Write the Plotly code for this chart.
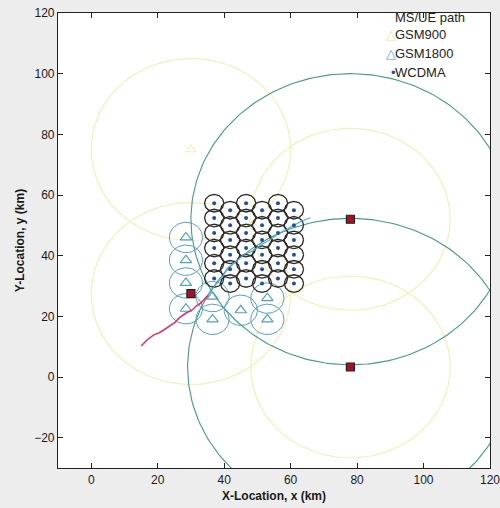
import numpy as np
import plotly.graph_objects as go

# ---------------- data ----------------
# GSM900 macro sites (yellow coverage circles)
gsm900_x = [30, 30, 78, 78]
gsm900_y = [75, 27.5, 52, 3.3]
gsm900_r = [30, 30, 30, 30]

# large (green) coverage circles
big_x = [78, 78]
big_y = [52, 3.3]
big_r = [48, 49]

# GSM1800 sites
gsm1800_x = [28.5, 28.5, 28.5, 28.5, 36.5, 36.5, 45, 53, 53]
gsm1800_y = [46, 38.5, 31, 22.5, 26.5, 19, 22, 26, 19]
gsm1800_r = 5

# WCDMA sites
wcdma_x = [37, 37, 37, 37, 37, 37,
           41.8, 41.8, 41.8, 41.8, 41.8, 41.8,
           46.6, 46.6, 46.6, 46.6, 46.6, 46.6,
           51.4, 51.4, 51.4, 51.4, 51.4, 51.4,
           56.2, 56.2, 56.2, 56.2, 56.2, 56.2,
           61, 61, 61, 61, 61, 61]
wcdma_y = [57.3, 52.4, 47.5, 42.5, 37.5, 32.5,
           55, 50, 45.2, 40.3, 35.5, 30.8,
           57.3, 52.4, 47.5, 42.5, 37.5, 32.5,
           55, 50, 45.2, 40.3, 35.5, 30.8,
           57.3, 52.4, 47.5, 42.5, 37.5, 32.5,
           55, 50, 45.2, 40.3, 35.5, 30.8]
wcdma_r = 2.9

# serving base stations (red squares)
bs_x = [30, 78, 78]
bs_y = [27.5, 52, 3.3]

# MS/UE path
path_x = [15, 16.8, 18.8, 20.5, 21.8, 23.9, 25.2, 26.4, 28.4, 30.4, 31.6, 32.9, 34.4, 35.2]
path_y = [10.2, 12.2, 13.9, 14.6, 15.5, 17.2, 18.0, 19.4, 21.0, 22.1, 23.4, 24.3, 25.9, 27.0]

path2_x = [35.2, 37.5, 39.5, 41.0, 43.5, 46.0, 48.5, 51.0, 53.5, 56.0, 58.5, 61.0, 63.5, 66.0]
path2_y = [27.0, 30.5, 33.0, 36.0, 38.0, 40.5, 41.5, 43.5, 45.0, 47.0, 48.5, 50.0, 51.5, 52.5]

x_ticks = [0, 20, 40, 60, 80, 100, 120]
y_ticks = [-20, 0, 20, 40, 60, 80, 100, 120]

legend_labels = ["MS/UE path", "GSM900", "GSM1800", "WCDMA"]


def circles(cxs, cys, rs, n=121):
    xs, ys = [], []
    t = np.linspace(0, 2 * np.pi, n)
    for cx, cy, r in zip(cxs, cys, rs):
        xs += list(cx + r * np.cos(t)) + [None]
        ys += list(cy + r * np.sin(t)) + [None]
    return xs, ys


fig = go.Figure()

yellow = "#f1f1b8"
cyan = "#559fc0"

# yellow GSM900 circles
xs, ys = circles(gsm900_x, gsm900_y, gsm900_r)
fig.add_trace(go.Scatter(x=xs, y=ys, mode="lines",
                         line=dict(color=yellow, width=1.2),
                         showlegend=False, hoverinfo="skip"))
fig.add_trace(go.Scatter(x=gsm900_x, y=gsm900_y, mode="markers",
                         marker=dict(symbol="triangle-up-open", size=9, color=yellow,
                                     line=dict(width=1.2)),
                         showlegend=False, hoverinfo="skip"))

# green large circles
xs, ys = circles(big_x, big_y, big_r, 241)
fig.add_trace(go.Scatter(x=xs, y=ys, mode="lines",
                         line=dict(color="#45998a", width=1.1),
                         showlegend=False, hoverinfo="skip"))

# GSM1800 circles
xs, ys = circles(gsm1800_x, gsm1800_y, [gsm1800_r] * len(gsm1800_x), 61)
fig.add_trace(go.Scatter(x=xs, y=ys, mode="lines",
                         line=dict(color=cyan, width=1.0),
                         showlegend=False, hoverinfo="skip"))
fig.add_trace(go.Scatter(x=gsm1800_x, y=gsm1800_y, mode="markers",
                         marker=dict(symbol="triangle-up-open", size=10, color=cyan,
                                     line=dict(width=1.2)),
                         showlegend=False, hoverinfo="skip"))

# WCDMA circles (polygonal look)
xs, ys = circles(wcdma_x, wcdma_y, [wcdma_r] * len(wcdma_x), 13)
fig.add_trace(go.Scatter(x=xs, y=ys, mode="lines",
                         line=dict(color="#2a2a2a", width=1.3),
                         showlegend=False, hoverinfo="skip"))

# path
fig.add_trace(go.Scatter(x=path2_x, y=path2_y, mode="lines",
                         line=dict(color="#5aa8d0", width=1.2),
                         showlegend=False, hoverinfo="skip"))
fig.add_trace(go.Scatter(x=path_x, y=path_y, mode="lines",
                         line=dict(color="#e0356e", width=1.6),
                         showlegend=False, hoverinfo="skip"))

fig.add_trace(go.Scatter(x=wcdma_x, y=wcdma_y, mode="markers",
                         marker=dict(symbol="circle", size=4, color="#2050a0"),
                         showlegend=False, hoverinfo="skip"))

fig.add_trace(go.Scatter(x=bs_x, y=bs_y, mode="markers",
                         marker=dict(symbol="square", size=8, color="#a8102a",
                                     line=dict(color="#222", width=1.2)),
                         showlegend=False, hoverinfo="skip"))

font = dict(family="Liberation Sans, Arial, sans-serif", size=12, color="#1a1a1a")

axis_common = dict(showgrid=False, zeroline=False, showline=True, linecolor="#222",
                   linewidth=1.2, mirror="ticks", ticks="inside", ticklen=5,
                   tickcolor="#222", tickfont=font, automargin=False,
                   ticklabeloverflow="allow")

fig.update_layout(
    width=500, height=508,
    margin=dict(l=58, r=10, t=13, b=40),
    paper_bgcolor="#ededed", plot_bgcolor="#ffffff",
    showlegend=False,
    xaxis=dict(range=[-10, 120], tickvals=x_ticks,
               title=dict(text="<b>X-Location, x (km)</b>", font=font, standoff=6),
               **axis_common),
    yaxis=dict(range=[-30, 120], tickvals=y_ticks,
               title=dict(text="<b>Y-Location, y (km)</b>", font=font, standoff=6),
               **axis_common),
)

leg_y = [0.991, 0.952, 0.912, 0.870]
glyphs = ["", "<span style='color:#e4e49a'>△</span>",
          "<span style='color:#559fc0'>△</span>",
          "<span style='color:#2050a0'>•</span>"]
lf = dict(family="Liberation Sans, Arial, sans-serif", size=13, color="#222")
for lab, yy, g in zip(legend_labels, leg_y, glyphs):
    fig.add_annotation(xref="paper", yref="paper", x=0.775, y=yy, text=lab,
                       xanchor="left", yanchor="middle", showarrow=False, font=lf)
    if g:
        fig.add_annotation(xref="paper", yref="paper", x=0.786, y=yy, text=g,
                           xanchor="right", yanchor="middle", showarrow=False, font=lf)

fig.write_html(
    "out.html",
    config={"displayModeBar": False},
    post_script="document.body.style.margin='0';document.body.style.background='#ededed';",
)
